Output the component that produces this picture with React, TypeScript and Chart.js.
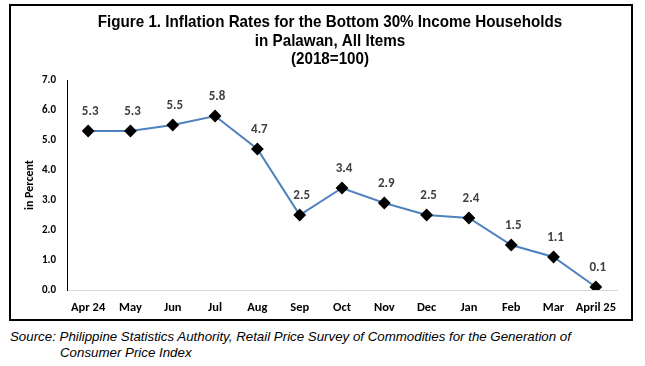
import React, { useEffect, useRef } from "react";
import { Chart, registerables } from "chart.js";

Chart.register(...registerables);

const categories = ["Apr 24", "May", "Jun", "Jul", "Aug", "Sep", "Oct", "Nov", "Dec", "Jan", "Feb", "Mar", "April 25"];
const inflation = [5.3, 5.3, 5.5, 5.8, 4.7, 2.5, 3.4, 2.9, 2.5, 2.4, 1.5, 1.1, 0.1];
const titleLines = [
  "Figure 1. Inflation Rates for the Bottom 30% Income Households",
  "in Palawan, All Items",
  "(2018=100)",
];
const yTitle = "in Percent";
const sourceLines = [
  "Source: Philippine Statistics Authority, Retail Price Survey of Commodities for the Generation of",
  "Consumer Price Index",
];

const W = 620;
const H = 313;
const TICK_FONT = "Carlito, Lato, 'Open Sans', sans-serif";
const TITLE_FONT = "'Liberation Sans', Arial, sans-serif";

const titlePlugin = {
  id: "customTitle",
  afterDraw(chart: any) {
    const ctx = chart.ctx;
    ctx.save();
    ctx.font = `bold 16px ${TITLE_FONT}`;
    ctx.fillStyle = "#000";
    ctx.textAlign = "center";
    ctx.textBaseline = "middle";
    const cx = 319;
    const ys = [16, 35, 53];
    titleLines.forEach((t, i) => {
      ctx.save();
      ctx.translate(cx, ys[i]);
      ctx.scale(0.95, 1.03);
      ctx.fillText(t, 0, 0);
      ctx.restore();
    });
    ctx.restore();
  },
};

const labelPlugin = {
  id: "pointLabels",
  afterDatasetsDraw(chart: any) {
    const ctx = chart.ctx;
    const meta = chart.getDatasetMeta(0);
    ctx.save();
    ctx.font = `bold 13px ${TICK_FONT}`;
    ctx.fillStyle = "#404040";
    ctx.textAlign = "center";
    ctx.textBaseline = "middle";
    meta.data.forEach((pt: any, i: number) => {
      ctx.fillText(inflation[i].toFixed(1), pt.x + 2, pt.y - 19);
    });
    ctx.restore();
  },
};

export default function App() {
  const ref = useRef<HTMLCanvasElement>(null);

  useEffect(() => {
    if (!ref.current) return;
    const chart = new Chart(ref.current, {
      type: "line",
      data: {
        labels: categories,
        datasets: [
          {
            data: inflation,
            borderColor: "#4f81bd",
            borderWidth: 2,
            pointStyle: "rectRot",
            pointRadius: 5,
            pointBackgroundColor: "#000",
            pointBorderColor: "#000",
            tension: 0,
          },
        ],
      },
      options: {
        animation: false,
        responsive: false,
        devicePixelRatio: 1,
        layout: { padding: { left: 0, right: 14, top: 74, bottom: 0 } },
        plugins: {
          legend: { display: false },
          tooltip: { enabled: false },
          title: { display: false },
        },
        scales: {
          x: {
            offset: true,
            grid: { display: false, drawTicks: false },
            border: { display: true, color: "#d9d9d9", width: 1 },
            ticks: {
              font: { family: TICK_FONT, size: 12.5, weight: "bold" },
              color: "#000",
              padding: 10,
              maxRotation: 0,
              autoSkip: false,
            },
            afterFit: (s: any) => {
              s.height = 29;
            },
          },
          y: {
            min: 0,
            max: 7,
            grid: { display: false, drawTicks: false },
            border: { display: true, color: "#000", width: 1 },
            ticks: {
              stepSize: 1,
              callback: (v: any) => Number(v).toFixed(1),
              font: { family: TICK_FONT, size: 11, weight: "bold" },
              color: "#000",
              padding: 11,
            },
            title: {
              display: true,
              text: yTitle,
              font: { family: TICK_FONT, size: 12, weight: "bold" },
              color: "#000",
              padding: { top: 12, bottom: 0 },
            },
            afterFit: (s: any) => {
              s.width = 56;
            },
          },
        },
      },
      plugins: [titlePlugin, labelPlugin],
    });
    return () => chart.destroy();
  }, []);

  const srcFont = "italic 13.3px 'Liberation Sans', Arial, sans-serif";

  return (
    <div style={{ position: "absolute", left: 0, top: 0, width: 645, height: 366 }}>
      <div
        style={{
          position: "absolute",
          left: 9,
          top: 4,
          width: W,
          height: H,
          border: "2px solid #000",
        }}
      >
        <canvas ref={ref} width={W} height={H} style={{ display: "block", width: W, height: H }} />
      </div>
      <div
        style={{
          position: "absolute",
          left: 10,
          top: 329,
          font: srcFont,
          color: "#000",
          whiteSpace: "nowrap",
          lineHeight: "16px",
        }}
      >
        {sourceLines[0]}
      </div>
      <div
        style={{
          position: "absolute",
          left: 60,
          top: 345,
          font: srcFont,
          color: "#000",
          whiteSpace: "nowrap",
          lineHeight: "16px",
        }}
      >
        {sourceLines[1]}
      </div>
    </div>
  );
}
